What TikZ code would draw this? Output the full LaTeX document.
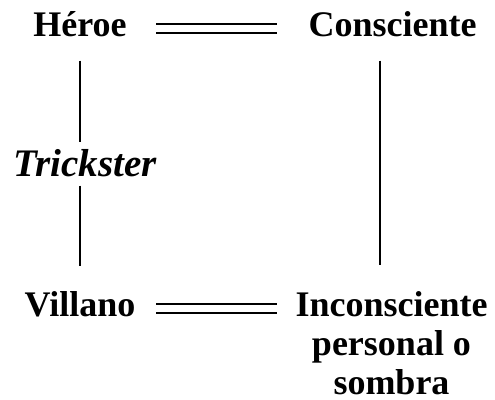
\documentclass[tikz,border=0pt]{standalone}
\usepackage{fontspec}
\setmainfont{Liberation Serif}
\usepackage{tikz}
\tikzset{
    term-label/.style = {inner sep=0pt, anchor=base, font=\fontsize{36}{39}\selectfont\bfseries},
    link-line/.style = {line width=1.8pt},
    equal-line/.style = {double, line width=2pt, double distance=6.5pt},
}

\begin{document}
\begin{tikzpicture}[x=1pt,y=1pt]
\useasboundingbox (0,0) rectangle (495,399);
\node [term-label] (heroe) at (80,362) {Héroe};
\node [term-label] (consciente) at (392.5,362) {Consciente};
\node [term-label, font=\fontsize{39}{39}\selectfont\bfseries\itshape] (trickster) at (85,222) {Trickster};
\node [term-label] (villano) at (80,82) {Villano};
\node [term-label, align=center] (inconsciente) at (391.5,4.5) {Inconsciente\\personal o\\sombra};
\coordinate (eq-left) at (156,0);
\coordinate (eq-right) at (277,0);
\draw [equal-line] ([yshift=8.5pt]heroe.base -| eq-left) -- ([yshift=8.5pt]consciente.base -| eq-right);
\draw [equal-line] ([yshift=8.5pt]villano.base -| eq-left) -- ([yshift=8.5pt]villano.base -| eq-right);
\draw [link-line, shorten <=23pt, shorten >=8pt] (heroe.south) -- (heroe.south |- trickster.north);
\draw [link-line, shorten <=8pt, shorten >=26pt] (villano.north |- trickster.south) -- (villano.north);
\draw [link-line, shorten <=23pt, shorten >=26pt] ([xshift=-12.5pt]consciente.south) -- ([xshift=-12.5pt]consciente.south |- inconsciente.north);
\end{tikzpicture}
\end{document}
